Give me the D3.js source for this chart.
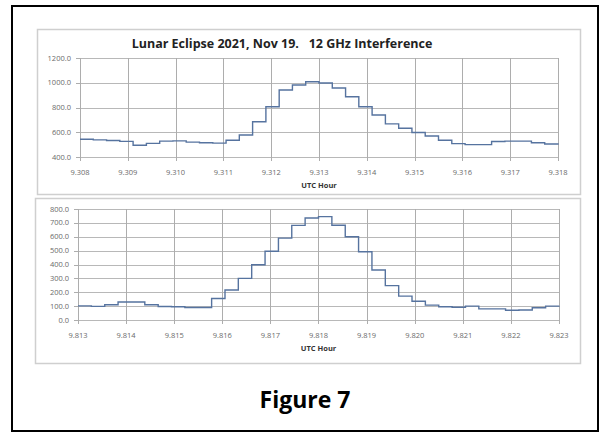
<!DOCTYPE html>
<html>
<head>
<meta charset="utf-8">
<script src="https://cdn.jsdelivr.net/npm/d3@7"></script>
<style>
  body { margin: 0; background: #fff; }
  text { font-family: "Open Sans", "DejaVu Sans", sans-serif; }
</style>
</head>
<body>
<div id="fig"></div>
<script>
const width = 601,
  height = 433;

// top chart: UTC hour and 12 GHz level (one reading per second)
const topHour = [9.308, 9.308278, 9.308556, 9.308833, 9.309111, 9.309389, 9.309667, 9.309944,
  9.310222, 9.3105, 9.310778, 9.311056, 9.311333, 9.311611, 9.311889, 9.312167, 9.312444,
  9.312722, 9.313, 9.313278, 9.313556, 9.313833, 9.314111, 9.314389, 9.314667, 9.314944,
  9.315222, 9.3155, 9.315778, 9.316056, 9.316333, 9.316611, 9.316889, 9.317167, 9.317444,
  9.317722, 9.318];
const topLevel = [543, 538, 533, 526, 495, 510, 528, 530, 520, 515, 512, 535, 578, 685, 806,
  941, 982, 1008, 998, 957, 887, 806, 740, 668, 632, 598, 570, 535, 508, 500, 500, 525, 528,
  528, 515, 505, 500];
const topXTicks = [9.308, 9.309, 9.31, 9.311, 9.312, 9.313, 9.314, 9.315, 9.316, 9.317, 9.318];
const topYTicks = [400, 600, 800, 1000, 1200];

// bottom chart
const botHour = [9.813, 9.813278, 9.813556, 9.813833, 9.814111, 9.814389, 9.814667, 9.814944,
  9.815222, 9.8155, 9.815778, 9.816056, 9.816333, 9.816611, 9.816889, 9.817167, 9.817444,
  9.817722, 9.818, 9.818278, 9.818556, 9.818833, 9.819111, 9.819389, 9.819667, 9.819944,
  9.820222, 9.8205, 9.820778, 9.821056, 9.821333, 9.821611, 9.821889, 9.822167, 9.822444,
  9.822722, 9.823];
const botLevel = [102, 98, 110, 130, 130, 110, 97, 95, 90, 90, 155, 216, 300, 398, 495, 590,
  682, 735, 745, 683, 600, 492, 360, 248, 172, 135, 107, 95, 92, 100, 80, 80, 70, 72, 88, 100, 103];
const botXTicks = [9.813, 9.814, 9.815, 9.816, 9.817, 9.818, 9.819, 9.82, 9.821, 9.822, 9.823];
const botYTicks = [0, 100, 200, 300, 400, 500, 600, 700, 800];

const svg = d3
  .select("#fig")
  .append("svg")
  .attr("width", width)
  .attr("height", height);

svg.append("rect").attr("width", width).attr("height", height).attr("fill", "#fff");

// outer figure border
svg
  .append("rect")
  .attr("x", 12)
  .attr("y", 6)
  .attr("width", 586)
  .attr("height", 425)
  .attr("fill", "none")
  .attr("stroke", "#000")
  .attr("stroke-width", 2);

function drawChart(opt) {
  const g = svg.append("g");

  // chart frame
  g.append("rect")
    .attr("x", opt.frame[0] + 0.5)
    .attr("y", opt.frame[1] + 0.5)
    .attr("width", opt.frame[2])
    .attr("height", opt.frame[3])
    .attr("fill", "#fff")
    .attr("stroke", "#cfcfcf")
    .attr("stroke-width", 1.5);

  const x = d3.scaleLinear().domain(opt.xDomain).range([opt.plot.left, opt.plot.right]);
  const y = d3.scaleLinear().domain(opt.yDomain).range([opt.plot.bottom, opt.plot.top]);

  // gridlines
  g.append("g")
    .selectAll("line")
    .data(opt.yTicks)
    .join("line")
    .attr("x1", opt.plot.left)
    .attr("x2", opt.plot.right)
    .attr("y1", (d) => Math.round(y(d)) + 0.5)
    .attr("y2", (d) => Math.round(y(d)) + 0.5)
    .attr("stroke", "#b8b8b8")
    .attr("stroke-width", 1);
  g.append("g")
    .selectAll("line")
    .data(opt.xTicks)
    .join("line")
    .attr("x1", (d) => Math.round(x(d)) + 0.5)
    .attr("x2", (d) => Math.round(x(d)) + 0.5)
    .attr("y1", opt.plot.top)
    .attr("y2", opt.plot.bottom + 4)
    .attr("stroke", "#adadad")
    .attr("stroke-width", 1);

  // small tick marks on the y axis
  g.append("g")
    .selectAll("line")
    .data(opt.yTicks)
    .join("line")
    .attr("x1", opt.plot.left - 4)
    .attr("x2", opt.plot.left)
    .attr("y1", (d) => Math.round(y(d)) + 0.5)
    .attr("y2", (d) => Math.round(y(d)) + 0.5)
    .attr("stroke", "#adadad");

  // tick labels
  g.append("g")
    .selectAll("text")
    .data(opt.yTicks)
    .join("text")
    .attr("x", opt.plot.left - 9)
    .attr("y", (d) => y(d) + 2.5)
    .attr("text-anchor", "end")
    .attr("font-size", 7.5)
    .attr("fill", "#6a6a6a")
    .text((d) => d3.format(".1f")(d));
  g.append("g")
    .selectAll("text")
    .data(opt.xTicks)
    .join("text")
    .attr("x", (d) => x(d))
    .attr("y", opt.plot.bottom + 18)
    .attr("text-anchor", "middle")
    .attr("font-size", 7.5)
    .attr("fill", "#6a6a6a")
    .text((d) => d3.format(".3f")(d));

  g.append("text")
    .attr("x", x(opt.xTicks[5]))
    .attr("y", opt.plot.bottom + 31)
    .attr("text-anchor", "middle")
    .attr("font-size", 7.5)
    .attr("font-weight", "bold")
    .attr("fill", "#333")
    .text("UTC Hour");

  const line = d3
    .line()
    .x((d, i) => x(opt.hours[i]))
    .y((d) => y(d))
    .curve(d3.curveStepAfter);

  g.append("path")
    .datum(opt.levels)
    .attr("d", line)
    .attr("fill", "none")
    .attr("stroke", "#56739f")
    .attr("stroke-width", 1.4);

  if (opt.title) {
    g.append("text")
      .attr("x", 282)
      .attr("y", 48)
      .attr("text-anchor", "middle")
      .attr("font-size", 12.5)
      .attr("font-weight", "bold")
      .attr("fill", "#222")
      .attr("xml:space", "preserve")
      .style("white-space", "pre")
      .text(opt.title);
  }
}

drawChart({
  frame: [37, 29, 543, 165],
  plot: { left: 80, right: 558, top: 58, bottom: 157 },
  xDomain: [9.308, 9.318],
  yDomain: [400, 1200],
  xTicks: topXTicks,
  yTicks: topYTicks,
  hours: topHour,
  levels: topLevel,
  title: "Lunar Eclipse 2021, Nov 19.   12 GHz Interference",
});

drawChart({
  frame: [35, 198, 545, 165],
  plot: { left: 78, right: 559, top: 209, bottom: 320 },
  xDomain: [9.813, 9.823],
  yDomain: [0, 800],
  xTicks: botXTicks,
  yTicks: botYTicks,
  hours: botHour,
  levels: botLevel,
});

svg
  .append("text")
  .attr("x", 305)
  .attr("y", 408)
  .attr("text-anchor", "middle")
  .attr("font-size", 23)
  .attr("font-weight", "bold")
  .attr("fill", "#000")
  .text("Figure 7");
</script>
</body>
</html>
